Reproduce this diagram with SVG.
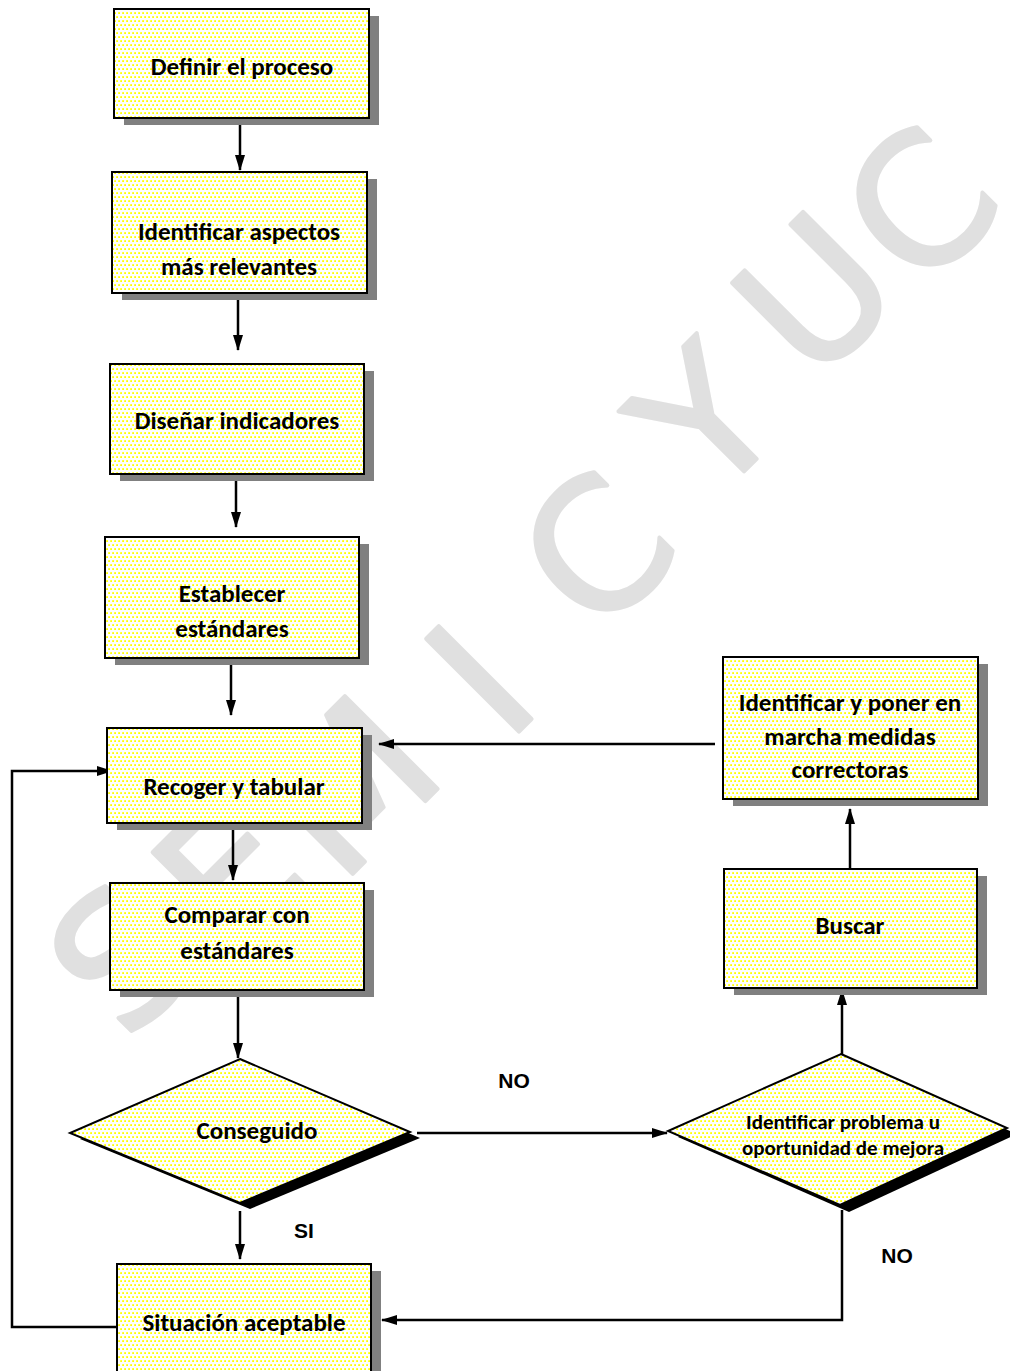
<svg xmlns="http://www.w3.org/2000/svg" width="1010" height="1371" viewBox="0 0 1010 1371">
<defs>
<pattern id="dots" width="4" height="8" patternUnits="userSpaceOnUse">
<rect width="4" height="8" fill="#ffffff"/>
<rect x="0.2" y="0.2" width="1.8" height="1.8" fill="#ffff00"/>
<rect x="2.2" y="4.2" width="1.8" height="1.8" fill="#ffff00"/>
</pattern>
<marker id="arr" markerWidth="16" markerHeight="12" refX="15" refY="5" orient="auto" markerUnits="userSpaceOnUse">
<path d="M0,0 L16,5 L0,10 Z" fill="#000"/>
</marker>
</defs>
<style>
.box{fill:url(#dots);stroke:#000;stroke-width:2}
.sh{fill:#808080}
.dsh{fill:#000}
.t{font-family:Carlito,"Open Sans","Liberation Sans",sans-serif;font-weight:bold;font-size:25px;fill:#000;text-anchor:middle}
.ts{font-size:21px}
.lab{font-family:"Liberation Sans",Arial,sans-serif;font-weight:bold;font-size:21px;fill:#000;text-anchor:middle}
.c{fill:none;stroke:#000;stroke-width:2.5}
.wm{font-family:"DejaVu Sans",sans-serif;font-size:180px;fill:#e0e0e0;stroke:#e0e0e0;stroke-width:4;stroke-linejoin:round;text-anchor:middle}
</style>
<rect width="1010" height="1371" fill="#fff"/>
<g id="watermark">
<text class="wm" transform="translate(122,958) rotate(-45)" dy="64">S</text>
<text class="wm" transform="translate(228,872) rotate(-45)" dy="64">E</text>
<text class="wm" transform="translate(350,786) rotate(-45)" dy="64">M</text>
<text class="wm" transform="translate(480,680) rotate(-45)" dy="64">I</text>
<text class="wm" transform="translate(597,550) rotate(-45)" dy="64">C</text>
<text class="wm" transform="translate(705,420) rotate(-45)" dy="64">Y</text>
<text class="wm" transform="translate(815,295) rotate(-45)" dy="64">U</text>
<text class="wm" transform="translate(920,205) rotate(-45)" dy="64">C</text>
</g>
<g id="connectors">
<path class="c" d="M240,118 V170" marker-end="url(#arr)"/>
<path class="c" d="M238,293 V350" marker-end="url(#arr)"/>
<path class="c" d="M236,474 V527" marker-end="url(#arr)"/>
<path class="c" d="M231,658 V715" marker-end="url(#arr)"/>
<path class="c" d="M233,823 V880" marker-end="url(#arr)"/>
<path class="c" d="M238,990 V1058" marker-end="url(#arr)"/>
<path class="c" d="M240,1211 V1259" marker-end="url(#arr)"/>
<path class="c" d="M417,1133 H667" marker-end="url(#arr)"/>
<path class="c" d="M842,1210 V1320 H382" marker-end="url(#arr)"/>
<path class="c" d="M842,1054 V990" marker-end="url(#arr)"/>
<path class="c" d="M850,869 V809" marker-end="url(#arr)"/>
<path class="c" d="M715,744 H379" marker-end="url(#arr)"/>
<path class="c" d="M117,1327 H12 V771 H112" marker-end="url(#arr)"/>
<text class="lab" x="514" y="1088">NO</text>
<text class="lab" x="304" y="1238">SI</text>
<text class="lab" x="897" y="1263">NO</text>
</g>
<g id="n1">
<rect class="sh" x="124" y="16" width="255" height="109"/>
<rect class="box" x="114" y="9" width="255" height="109"/>
<text class="t" x="242" y="75">Definir el proceso</text>
</g>
<g id="n2">
<rect class="sh" x="122" y="179" width="255" height="121"/>
<rect class="box" x="112" y="172" width="255" height="121"/>
<text class="t" x="239" y="240">Identificar aspectos</text>
<text class="t" x="239" y="275">más relevantes</text>
</g>
<g id="n3">
<rect class="sh" x="120" y="371" width="254" height="110"/>
<rect class="box" x="110" y="364" width="254" height="110"/>
<text class="t" x="237" y="429">Diseñar indicadores</text>
</g>
<g id="n4">
<rect class="sh" x="115" y="544" width="254" height="121"/>
<rect class="box" x="105" y="537" width="254" height="121"/>
<text class="t" x="232" y="602">Establecer</text>
<text class="t" x="232" y="637">estándares</text>
</g>
<g id="n5">
<rect class="sh" x="117" y="735" width="255" height="95"/>
<rect class="box" x="107" y="728" width="255" height="95"/>
<text class="t" x="234" y="795">Recoger y tabular</text>
</g>
<g id="n6">
<rect class="sh" x="120" y="890" width="254" height="107"/>
<rect class="box" x="110" y="883" width="254" height="107"/>
<text class="t" x="237" y="923">Comparar con</text>
<text class="t" x="237" y="959">estándares</text>
</g>
<g id="n7">
<polygon class="dsh" points="250,1065 420,1138 250,1209 80,1139"/>
<polygon class="box" points="240,1059 410,1132 240,1203 70,1133"/>
<text class="t" x="257" y="1139">Conseguido</text>
</g>
<g id="n8">
<polygon class="dsh" points="851,1060 1017,1134 849,1212 678,1137"/>
<polygon class="box" points="841,1054 1007,1128 840,1205 668,1131"/>
<text class="t ts" x="843" y="1129">Identificar problema u</text>
<text class="t ts" x="843" y="1155">oportunidad de mejora</text>
</g>
<g id="n9">
<rect class="sh" x="734" y="876" width="253" height="119"/>
<rect class="box" x="724" y="869" width="253" height="119"/>
<text class="t" x="850" y="934">Buscar</text>
</g>
<g id="n10">
<rect class="sh" x="733" y="664" width="255" height="142"/>
<rect class="box" x="723" y="657" width="255" height="142"/>
<text class="t" x="850" y="711">Identificar y poner en</text>
<text class="t" x="850" y="745">marcha medidas</text>
<text class="t" x="850" y="778">correctoras</text>
</g>
<g id="n11">
<rect class="sh" x="127" y="1271" width="254" height="120"/>
<rect class="box" x="117" y="1264" width="254" height="120"/>
<text class="t" x="244" y="1331">Situación aceptable</text>
</g>
</svg>
